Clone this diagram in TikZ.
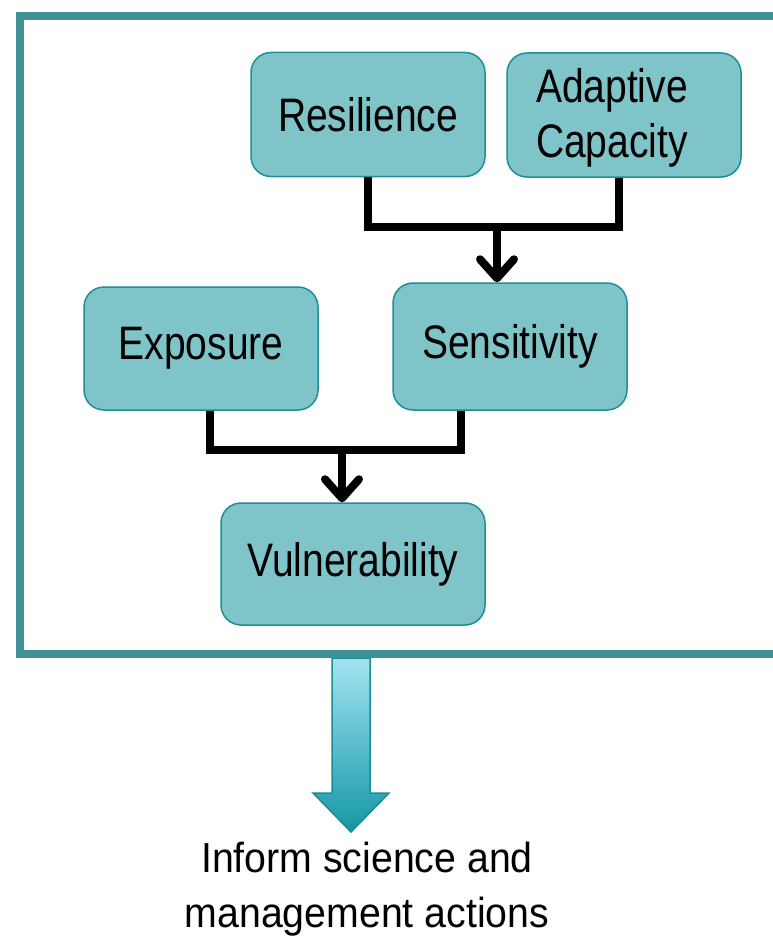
\documentclass[tikz,border=0pt]{standalone}
\usepackage{fontspec}
\setmainfont{Liberation Sans}
\newfontfamily\boxfont[FakeStretch=0.83]{Liberation Sans}
\newfontfamily\notefont[FakeStretch=0.935]{Liberation Sans}
\usetikzlibrary{arrows.meta, positioning}
\definecolor{boxfill}{RGB}{127,196,201}
\definecolor{boxline}{RGB}{30,142,153}
\definecolor{frameline}{RGB}{64,145,150}
\definecolor{arrowtop}{RGB}{162,227,241}
\definecolor{arrowbot}{RGB}{21,151,166}
\definecolor{arrowline}{RGB}{26,140,149}
\tikzset{>={Straight Barb[length=19pt,width=34pt,round]}}

\begin{document}
\begin{tikzpicture}[x=1pt, y=-1pt,
	term/.style={draw=boxline, fill=boxfill, line width=1.5pt, rounded corners=20pt, minimum width=234pt, minimum height=124pt, inner sep=0pt, font=\boxfont\fontsize{47}{55}\selectfont, align=center},
	link/.style={line width=8pt}]
	\useasboundingbox (0,0) rectangle (773,939);
	\clip (0,0) rectangle (773,939);

	% big arrow out of the frame
	\shade [top color=arrowtop, bottom color=arrowbot, draw=arrowline, line width=1.5pt] (332,658) -- (370,658) -- (370,793) -- (389,793) -- (351,832) -- (313,793) -- (332,793) -- cycle;
	\draw [frameline, line width=8pt] (20,16) rectangle (800,654);

	\node[term] (res) at (368,114.5) {Resilience};
	\node[term, text width=176pt, align=left] (adapt) at (624,115) {\rule{0pt}{40pt}Adaptive\\Capacity};
	\node[term, minimum height=123pt] (exp) at (201,348.5) {Exposure};
	\node[term, minimum height=127pt] (sens) at (510,346.5) {Sensitivity};
	\node[term, minimum width=264pt, minimum height=122pt] (vul) at (353,564) {Vulnerability};

	\coordinate (j1) at (497,227);
	\coordinate (j2) at (342,450);
	\draw [link] (res.south) |- (j1) -| ([xshift=-5pt]adapt.south);
	\draw [link, ->] (j1) -- (j1 |- sens.north);
	\draw [link] ([xshift=9pt]exp.south) |- (j2) -| ([xshift=-49pt]sens.south);
	\draw [link, ->] (j2) -- (j2 |- vul.north);

	\node (act) [font=\notefont\fontsize{42}{55}\selectfont, align=center, anchor=north, inner sep=0pt] at (367,842) {Inform science and\\management actions};
\end{tikzpicture}
\end{document}
